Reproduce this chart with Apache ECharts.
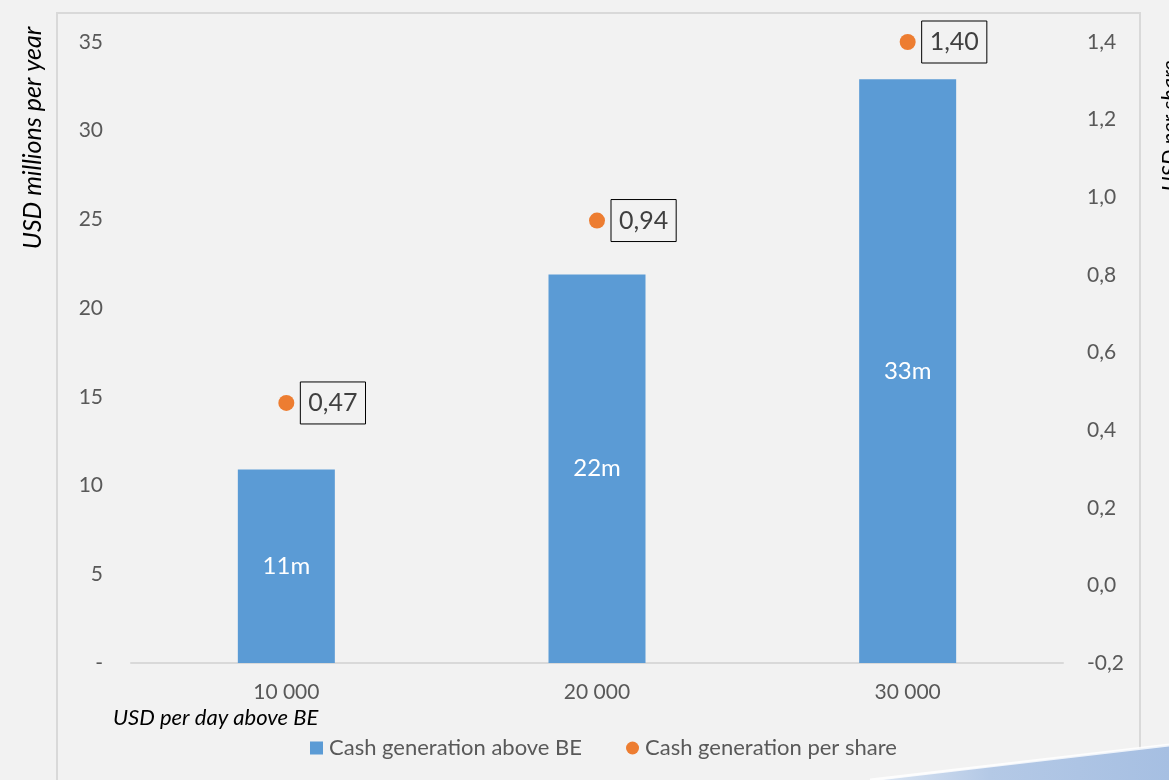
<!DOCTYPE html>
<html>
<head>
<meta charset="utf-8">
<script src="https://cdn.jsdelivr.net/npm/echarts@6/dist/echarts.min.js"></script>
<style>
html,body{margin:0;padding:0;background:#f2f2f2;}
#chart{width:1169px;height:780px;}
</style>
</head>
<body>
<div id="chart"></div>
<script>
var categories = ['10 000', '20 000', '30 000'];
var cashAboveBE = [10.9, 21.9, 32.9];
var barLabels = ['11m', '22m', '33m'];
var cashPerShare = [0.47, 0.94, 1.40];
var leftTicks = { min: 0, max: 35, interval: 5 };
var rightTicks = { min: -0.2, max: 1.4, interval: 0.2 };
var seriesNames = ['Cash generation above BE', 'Cash generation per share'];
var xAxisTitle = 'USD per day above BE';
var leftAxisTitle = 'USD millions per year';
var rightAxisTitle = 'USD per share';

var FONT = 'Lato';
var chart = echarts.init(document.getElementById('chart'));
chart.setOption({
  backgroundColor: '#f2f2f2',
  textStyle: { fontFamily: FONT },
  animation: false,
  grid: { left: 131, right: 106, top: 42, bottom: 117 },
  graphic: [
    { type: 'rect', z: -10, shape: { x: 57, y: 13, width: 1083, height: 800 },
      style: { fill: 'none', stroke: '#d9d9d9', lineWidth: 2 } },
    { type: 'polygon', z: -5,
      shape: { points: [[870, 781], [1169, 745], [1169, 781]] },
      style: { fill: new echarts.graphic.LinearGradient(0, 0, 1, 0, [
        { offset: 0, color: '#dde7f3' }, { offset: 0.4, color: '#b4c9e6' }, { offset: 1, color: '#a6bfe2' }]) } },
    { type: 'line', z: -4, shape: { x1: 870, y1: 780, x2: 1169, y2: 745 },
      style: { stroke: '#ffffff', lineWidth: 3, opacity: 0.8 } },
    { type: 'text', left: 113, top: 707,
      style: { text: xAxisTitle, font: 'italic 22px ' + FONT, fill: '#000000' } },
    { type: 'text', x: 33, y: 138, rotation: Math.PI / 2,
      style: { text: leftAxisTitle, font: 'italic 25px ' + FONT, fill: '#000000',
               textAlign: 'center', textVerticalAlign: 'middle' } },
    { type: 'text', x: 1170, y: 126, rotation: Math.PI / 2,
      style: { text: rightAxisTitle, font: 'italic 22px ' + FONT, fill: '#000000',
               textAlign: 'center', textVerticalAlign: 'middle' } }
  ],
  legend: {
    left: 305, top: 732,
    itemWidth: 13, itemHeight: 13, itemGap: 44,
    textStyle: { fontSize: 22, color: '#595959', fontFamily: FONT, padding: [0, 0, 0, 1] },
    data: [
      { name: seriesNames[0], icon: 'rect' },
      { name: seriesNames[1], icon: 'circle' }
    ]
  },
  xAxis: {
    type: 'category', data: categories,
    axisLine: { lineStyle: { color: '#d9d9d9', width: 2 } },
    axisTick: { show: false },
    axisLabel: { fontSize: 21, color: '#595959', margin: 19, fontFamily: FONT }
  },
  yAxis: [
    { type: 'value', min: leftTicks.min, max: leftTicks.max, interval: leftTicks.interval,
      splitLine: { show: false }, axisLine: { show: false }, axisTick: { show: false },
      axisLabel: { fontSize: 21, color: '#595959', margin: 28, fontFamily: FONT,
        formatter: function (v) { return v === 0 ? '-' : String(v); } } },
    { type: 'value', min: rightTicks.min, max: rightTicks.max, interval: rightTicks.interval,
      splitLine: { show: false }, axisLine: { show: false }, axisTick: { show: false },
      axisLabel: { fontSize: 21, color: '#595959', margin: 24, fontFamily: FONT,
        formatter: function (v) { return v.toFixed(1).replace('.', ','); } } }
  ],
  series: [
    { name: seriesNames[0], type: 'bar', yAxisIndex: 0, data: cashAboveBE,
      barWidth: 97, itemStyle: { color: '#5b9bd5' },
      label: { show: true, position: 'inside', color: '#ffffff', fontSize: 24, fontFamily: FONT,
        formatter: function (p) { return barLabels[p.dataIndex]; } } },
    { name: seriesNames[1], type: 'scatter', yAxisIndex: 1, data: cashPerShare,
      symbolSize: 16, itemStyle: { color: '#ed7d31', opacity: 1 },
      label: { show: true, position: 'right', distance: 6, color: '#404040', fontSize: 25,
        fontFamily: FONT, borderColor: '#000000', borderWidth: 1, padding: [6, 8], lineHeight: 30,
        formatter: function (p) { return p.value.toFixed(2).replace('.', ','); } } }
  ]
});
</script>
</body>
</html>
